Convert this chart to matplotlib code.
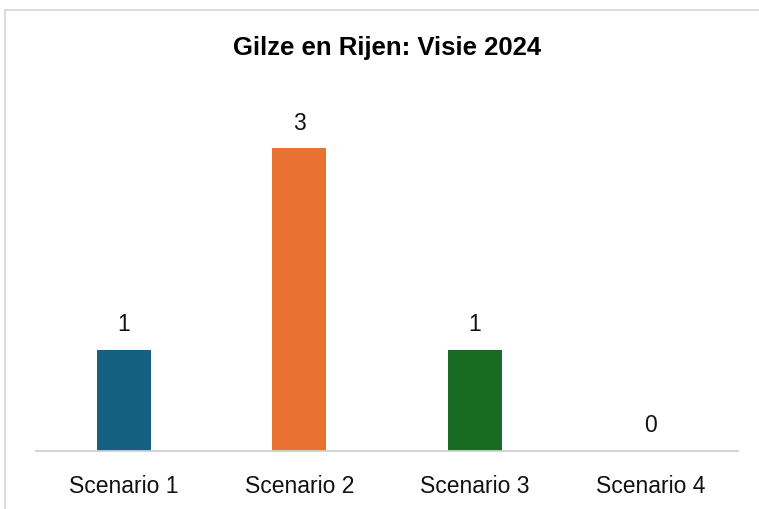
import matplotlib.pyplot as plt
from matplotlib.patches import Rectangle

# data
categories = ["Scenario 1", "Scenario 2", "Scenario 3", "Scenario 4"]
values = [1, 3, 1, 0]
colors = ["#156082", "#E97132", "#196B24", "#0F9ED5"]
title = "Gilze en Rijen: Visie 2024"

plt.rcParams['font.family'] = ['Liberation Sans', 'DejaVu Sans']

fig = plt.figure(figsize=(7.59, 5.09), dpi=100)

# chart area border (light gray, runs off the right and bottom edges)
fig.patches.append(Rectangle((5 / 759, -0.1), 1.2, (509 - 10) / 509 + 0.1,
                             transform=fig.transFigure, fill=False,
                             edgecolor="#d9d9d9", linewidth=1.3))

ax = fig.add_axes([36 / 759, 58 / 509, 702 / 759, 350 / 509])
x = range(len(categories))
bars = ax.bar(x, values, width=0.31, color=colors)

ax.bar_label(bars, labels=[str(v) for v in values], padding=10, fontsize=16.5,
             color="#111111")

ax.set_xlim(-0.5, 3.5)
ax.set_ylim(0, 3.47)
ax.set_xticks(list(x))
ax.set_xticklabels(categories, fontsize=16.5, color="#111111")
ax.tick_params(axis='x', length=0, pad=17)
ax.set_yticks([])
for s in ['top', 'right', 'left']:
    ax.spines[s].set_visible(False)
ax.spines['bottom'].set_color("#d0d0d0")
ax.spines['bottom'].set_linewidth(1.3)

fig.text(387 / 759, 1 - 48 / 509, title, ha='center', va='center',
         fontsize=18.5, fontweight='bold', color="#000000")

fig.savefig("out.png", dpi=100)
